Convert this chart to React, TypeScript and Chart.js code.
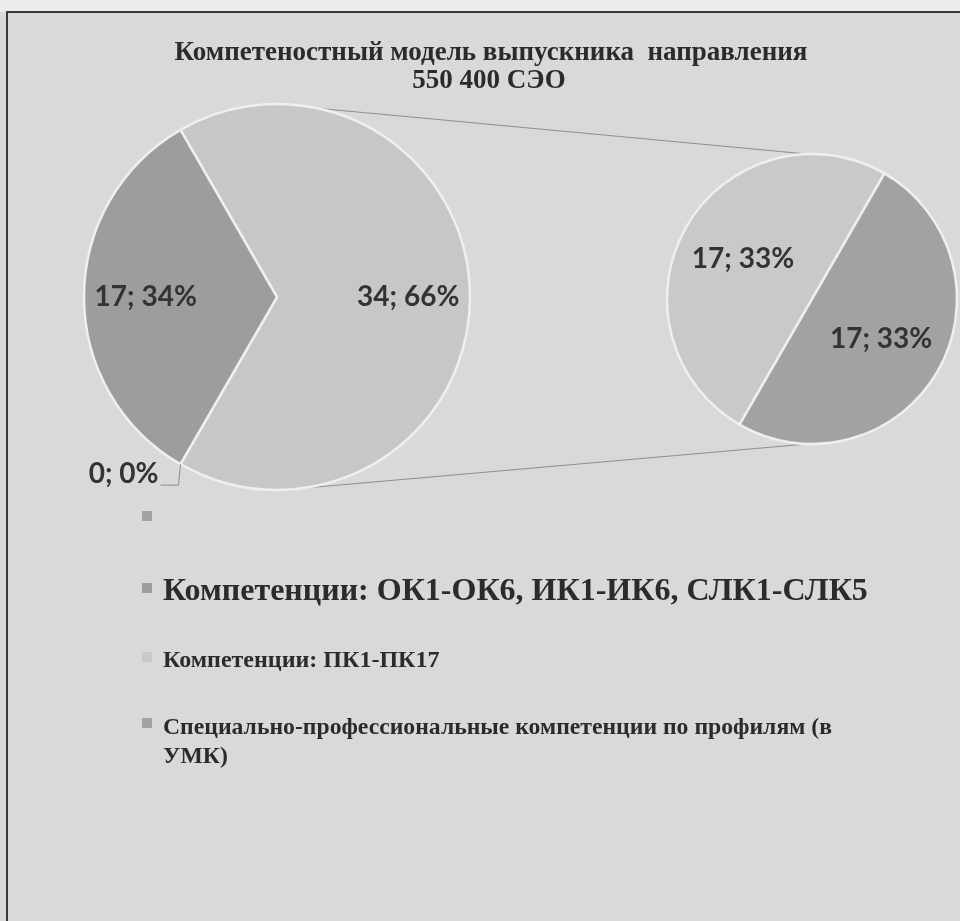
import React, { useEffect, useRef } from "react";
import { Chart, registerables } from "chart.js";

Chart.register(...registerables);

// ---------- data ----------
const titleLines = ["Компетеностный модель выпускника  направления", "550 400 СЭО"];

const mainCategories = ["Прочее", "", "Компетенции: ОК1-ОК6, ИК1-ИК6, СЛК1-СЛК5"];
const mainValues = [34, 0, 17];
const mainPercents = [66, 0, 34];

const secondCategories = [
  "Компетенции: ПК1-ПК17",
  "Специально-профессиональные компетенции по профилям (в УМК)",
];
const secondValues = [17, 17];
const secondPercents = [33, 33];

const legendLabels = [
  "",
  "Компетенции: ОК1-ОК6, ИК1-ИК6, СЛК1-СЛК5",
  "Компетенции: ПК1-ПК17",
  "Специально-профессиональные компетенции по профилям (в УМК)",
];

// ---------- styles ----------
const BG = "#d9d9dc";
const mainColors = ["#c7c7ca", "#a8a8ab", "#9d9da0"];
const secondColors = ["#c9c9cc", "#a2a2a5"];
const legendColors = ["#a2a2a5", "#9d9da0", "#c9c9cc", "#a2a2a5"];
const SLICE_BORDER = "#efeff1";
const TEXT = "#2b2b2d";
const SERIF = '"Liberation Serif", "Times New Roman", serif';
const LABEL_FONT = 'bold 28px Lato, "Open Sans", sans-serif';

const legendItems = [
  { size: 0, markerY: 511, baseline: 521 },
  { size: 32, markerY: 583, baseline: 600 },
  { size: 24, markerY: 652, baseline: 667 },
  { size: 23.7, markerY: 718, baseline: 734, lineHeight: 29, wrap: 700 },
];

function wrapWords(ctx: CanvasRenderingContext2D, text: string, maxW: number) {
  const words = text.split(" ");
  const lines: string[] = [];
  let cur = "";
  for (const w of words) {
    const test = cur ? cur + " " + w : w;
    if (cur && ctx.measureText(test).width > maxW) {
      lines.push(cur);
      cur = w;
    } else cur = test;
  }
  if (cur) lines.push(cur);
  return lines;
}

function drawLabels(chart: any, percents: number[], values: number[], factor: number) {
  const ctx = chart.ctx as CanvasRenderingContext2D;
  const meta = chart.getDatasetMeta(0);
  ctx.save();
  ctx.font = LABEL_FONT;
  ctx.fillStyle = "#333335";
  ctx.textBaseline = "middle";
  meta.data.forEach((arc: any, i: number) => {
    const p = arc.getProps(["x", "y", "startAngle", "endAngle", "outerRadius"], true);
    const mid = (p.startAngle + p.endAngle) / 2;
    const text = `${values[i]}; ${percents[i]}%`;
    if (values[i] === 0) {
      // outside label with leader line
      const ex = p.x + p.outerRadius * Math.cos(mid);
      const ey = p.y + p.outerRadius * Math.sin(mid);
      ctx.strokeStyle = "#8d8d90";
      ctx.lineWidth = 1;
      ctx.beginPath();
      ctx.moveTo(ex, ey);
      ctx.lineTo(ex - 2, ey + 21);
      ctx.lineTo(ex - 20, ey + 21);
      ctx.stroke();
      ctx.textAlign = "right";
      ctx.fillText(text, ex - 22, ey + 10);
    } else {
      ctx.textAlign = "center";
      const r = p.outerRadius * factor;
      ctx.fillText(text, p.x + r * Math.cos(mid), p.y + r * Math.sin(mid));
    }
  });
  ctx.restore();
}

export default function App() {
  const mainRef = useRef<HTMLCanvasElement>(null);
  const secondRef = useRef<HTMLCanvasElement>(null);

  useEffect(() => {
    const c2 = secondRef.current!;
    const c1 = mainRef.current!;

    const second = new Chart(c2, {
      type: "pie",
      data: {
        labels: secondCategories,
        datasets: [
          {
            data: secondValues,
            backgroundColor: secondColors,
            borderColor: SLICE_BORDER,
            borderWidth: 2.5,
          },
        ],
      },
      options: {
        responsive: false,
        animation: false,
        events: [],
        rotation: 210,
        radius: 145,
        plugins: { legend: { display: false }, tooltip: { enabled: false }, title: { display: false } },
      },
      plugins: [
        {
          id: "secondLabels",
          afterDatasetsDraw(chart: any) {
            drawLabels(chart, secondPercents, secondValues, 0.55);
          },
        },
      ],
    });

    const main = new Chart(c1, {
      type: "pie",
      data: {
        labels: mainCategories,
        datasets: [
          {
            data: mainValues,
            backgroundColor: mainColors,
            borderColor: SLICE_BORDER,
            borderWidth: 2.5,
          },
        ],
      },
      options: {
        responsive: false,
        animation: false,
        events: [],
        rotation: -30,
        radius: 193,
        layout: { padding: { left: 0, top: 0, right: 406, bottom: 327 } },
        plugins: { legend: { display: false }, tooltip: { enabled: false }, title: { display: false } },
      },
      plugins: [
        {
          id: "page",
          beforeDraw(chart: any) {
            const ctx = chart.ctx as CanvasRenderingContext2D;
            ctx.save();
            ctx.fillStyle = "#ececee";
            ctx.fillRect(0, 0, chart.width, 12);
            // frame
            ctx.strokeStyle = "#3a3a3e";
            ctx.lineWidth = 2;
            ctx.beginPath();
            ctx.moveTo(7, chart.height);
            ctx.lineTo(7, 12);
            ctx.lineTo(chart.width, 12);
            ctx.stroke();
            // connectors (drawn under the pies)
            const arc = chart.getDatasetMeta(0).data[0];
            const p = arc.getProps(["x", "y", "outerRadius"], true);
            const sArc: any = second.getDatasetMeta(0).data[0];
            const sp = sArc.getProps(["x", "y", "outerRadius"], true);
            const sx = sp.x + c2.offsetLeft;
            const sy = sp.y + c2.offsetTop;
            const a1 = (-90 + 12) * (Math.PI / 180);
            const a2 = (-90 + 172) * (Math.PI / 180);
            ctx.strokeStyle = "#8e8e92";
            ctx.lineWidth = 1;
            ctx.beginPath();
            ctx.moveTo(p.x + p.outerRadius * Math.cos(a1), p.y + p.outerRadius * Math.sin(a1));
            ctx.lineTo(sx - 5, sy - sp.outerRadius);
            ctx.moveTo(p.x + p.outerRadius * Math.cos(a2), p.y + p.outerRadius * Math.sin(a2));
            ctx.lineTo(sx - 5, sy + sp.outerRadius);
            ctx.stroke();
            ctx.restore();
          },
          afterDatasetsDraw(chart: any) {
            drawLabels(chart, mainPercents, mainValues, 0.68);
          },
          afterDraw(chart: any) {
            const ctx = chart.ctx as CanvasRenderingContext2D;
            ctx.save();
            // title
            ctx.fillStyle = TEXT;
            ctx.textAlign = "center";
            ctx.textBaseline = "alphabetic";
            ctx.font = `bold 27px ${SERIF}`;
            ctx.fillText(titleLines[0], 491, 60);
            ctx.fillText(titleLines[1], 489, 88);
            // legend
            ctx.textAlign = "left";
            legendItems.forEach((it, i) => {
              ctx.fillStyle = legendColors[i];
              ctx.fillRect(142, it.markerY, 10, 10);
              if (!legendLabels[i]) return;
              ctx.fillStyle = TEXT;
              ctx.font = `bold ${it.size}px ${SERIF}`;
              const lines = it.wrap ? wrapWords(ctx, legendLabels[i], it.wrap) : [legendLabels[i]];
              lines.forEach((ln, k) => {
                ctx.fillText(ln, 163, it.baseline + k * (it.lineHeight || 0));
              });
            });
            ctx.restore();
          },
        },
      ],
    });

    return () => {
      main.destroy();
      second.destroy();
    };
  }, []);

  return (
    <div
      style={{
        position: "fixed",
        left: 0,
        top: 0,
        width: 960,
        height: 921,
        background: BG,
        overflow: "hidden",
      }}
    >
      <canvas ref={mainRef} width={960} height={921} style={{ position: "absolute", left: 0, top: 0 }} />
      <canvas ref={secondRef} width={300} height={300} style={{ position: "absolute", left: 662, top: 149 }} />
    </div>
  );
}
